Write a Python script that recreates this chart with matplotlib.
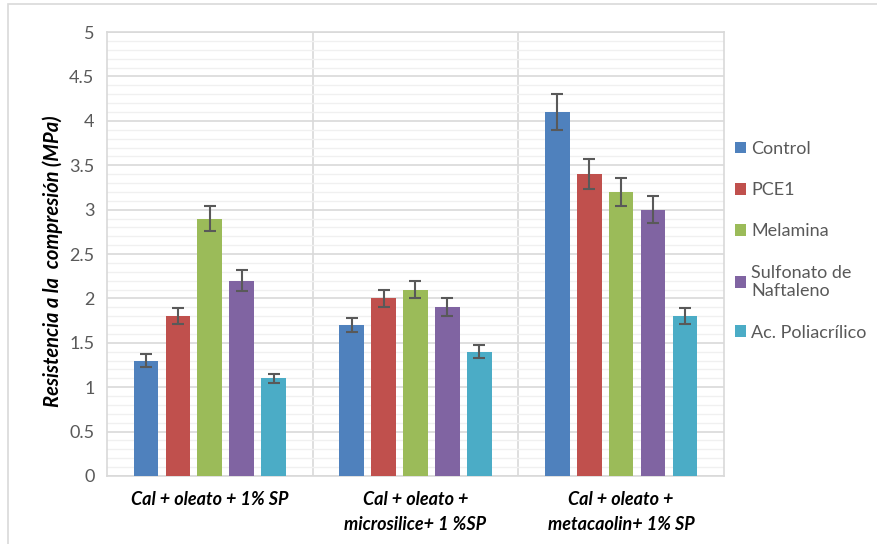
import matplotlib
matplotlib.use("Agg")
import matplotlib.pyplot as plt
from matplotlib.patches import Rectangle
import numpy as np

plt.rcParams['font.family'] = ['Lato', 'DejaVu Sans']

categories = ["Cal + oleato + 1% SP",
              "Cal + oleato +\nmicrosilice+ 1 %SP",
              "Cal + oleato +\nmetacaolin+ 1% SP"]
series = ["Control", "PCE1", "Melamina", "Sulfonato de\nNaftaleno", "Ac. Poliacrílico"]
values = {
    "Control": [1.3, 1.7, 4.1],
    "PCE1": [1.8, 2.0, 3.4],
    "Melamina": [2.9, 2.1, 3.2],
    "Sulfonato de\nNaftaleno": [2.2, 1.9, 3.0],
    "Ac. Poliacrílico": [1.1, 1.4, 1.8],
}
errors = {
    "Control": [0.07, 0.08, 0.20],
    "PCE1": [0.09, 0.10, 0.17],
    "Melamina": [0.14, 0.10, 0.16],
    "Sulfonato de\nNaftaleno": [0.12, 0.10, 0.15],
    "Ac. Poliacrílico": [0.05, 0.07, 0.09],
}
colors = ["#4F81BD", "#C0504D", "#9BBB59", "#8064A2", "#4BACC6"]

fig = plt.figure(figsize=(8.77, 5.44), dpi=100)
fig.patches.append(Rectangle((0.009, -0.05), 1.1, 1.043, transform=fig.transFigure,
                             fill=False, edgecolor="#D9D9D9", linewidth=1.2))
ax = fig.add_axes([0.122, 0.125, 0.7035, 0.816])

x = np.arange(len(categories))
step = 0.155
width = 0.12
for i, (name, c) in enumerate(zip(series, colors)):
    pos = x + (i - 2) * step
    ax.bar(pos, values[name], width=width, color=c, label=name, zorder=3)
    ax.errorbar(pos, values[name], yerr=errors[name], fmt="none", ecolor="#595959",
                elinewidth=1.5, capsize=4, capthick=1.5, zorder=4)

ax.set_xlim(-0.5, 2.5)
ax.set_ylim(0, 5)
ax.set_yticks(np.arange(0, 5.01, 0.5))
ax.set_yticklabels(["0", "0.5", "1", "1.5", "2", "2.5", "3", "3.5", "4", "4.5", "5"])
ax.set_yticks(np.arange(0, 5.01, 0.1), minor=True)
ax.grid(axis="y", which="major", color="#D9D9D9", linewidth=1.2, zorder=0)
ax.grid(axis="y", which="minor", color="#F0F0F0", linewidth=1.0, zorder=0)
for xb in [0.5, 1.5]:
    ax.axvline(xb, color="#D9D9D9", linewidth=1.2, zorder=0)

ax.set_xticks(x)
ax.set_xticklabels(categories, fontsize=13, fontweight="bold", style="italic",
                   color="black", linespacing=1.55)
ax.tick_params(axis="x", length=0, pad=11)
ax.tick_params(axis="y", which="both", length=0, labelsize=13, labelcolor="#595959", pad=9)
for s in ["left", "right", "top", "bottom"]:
    ax.spines[s].set_color("#D9D9D9")
    ax.spines[s].set_linewidth(1.2)

ax.set_ylabel("Resistencia a la  compresión (MPa)", fontsize=14.5, fontweight="bold",
              style="italic", color="black")
ax.yaxis.set_label_coords(-0.071, 0.485)

leg = ax.legend(loc="center left", bbox_to_anchor=(1.006, 0.53), frameon=False,
                fontsize=13, labelspacing=1.4, handlelength=0.6, handleheight=0.6,
                handletextpad=0.3, borderaxespad=0)
for t in leg.get_texts():
    t.set_color("#595959")

fig.savefig("out.png", dpi=100)
